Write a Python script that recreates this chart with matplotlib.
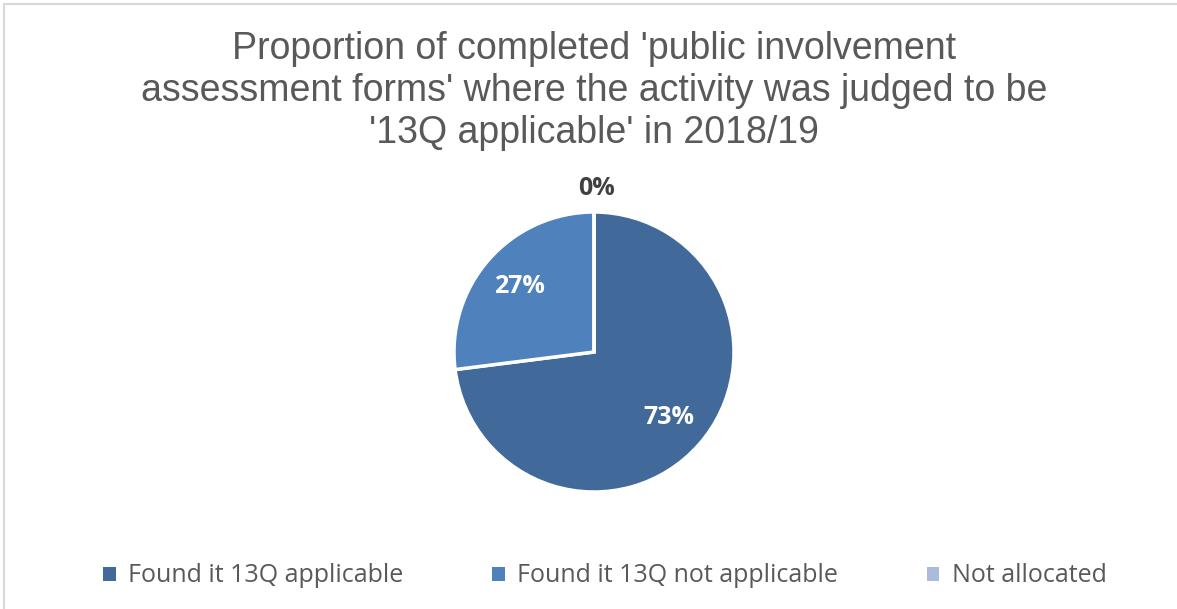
import numpy as np
import matplotlib.pyplot as plt
from matplotlib.patches import Rectangle

categories = ["Found it 13Q applicable", "Found it 13Q not applicable", "Not allocated"]
shares = [73, 27, 0]
colors = ["#416A9A", "#4F81BD", "#A9BCDB"]
title = ("Proportion of completed 'public involvement\n"
         "assessment forms' where the activity was judged to be\n"
         "'13Q applicable' in 2018/19")

W, H = 1177, 609
fig = plt.figure(figsize=(W / 100, H / 100), dpi=100)

# light chart-area border
fig.add_artist(Rectangle((4 / W, -0.01), 1.2, 1 - 4 / H + 0.01, transform=fig.transFigure,
                         fill=False, edgecolor="#D9D9D9", linewidth=1.5))

fig.text(594 / W, 1 - 91 / H, title, ha="center", va="center", fontsize=27,
         color="#595959", family="Liberation Sans", linespacing=1.22)

cx, cy, r = 594, 352, 140
ax = fig.add_axes([(cx - r) / W, (H - cy - r) / H, 2 * r / W, 2 * r / H])
wedges, _ = ax.pie(shares, colors=colors, startangle=90, counterclock=False,
                   wedgeprops=dict(edgecolor="white", linewidth=2.5))
ax.set_xlim(-1, 1)
ax.set_ylim(-1, 1)
ax.set_aspect("equal")

# percentage labels, placed at the wedge mid-angles
total = sum(shares)
start = 90.0
for val in shares:
    sweep = 360.0 * val / total
    mid = np.deg2rad(start - sweep / 2)
    if val == 0:
        ax.text(0.02, 1.17, f"{val}%", ha="center", va="center", fontsize=18,
                fontweight="bold", color="#404040", family="Open Sans")
    else:
        rr = 0.71
        ax.text(rr * np.cos(mid), rr * np.sin(mid), f"{val}%", ha="center", va="center",
                fontsize=18, fontweight="bold", color="white", family="Open Sans")
    start -= sweep

handles = [Rectangle((0, 0), 1, 1, facecolor=c) for c in colors]
fig.legend(handles, categories, loc="center", bbox_to_anchor=(605 / W, 1 - 576 / H), ncol=3,
           frameon=False, handlelength=0.5, handleheight=0.5, handletextpad=0.5,
           columnspacing=3.55, prop=dict(family="Open Sans", size=18), labelcolor="#595959")

fig.savefig("out.png", dpi=100)
